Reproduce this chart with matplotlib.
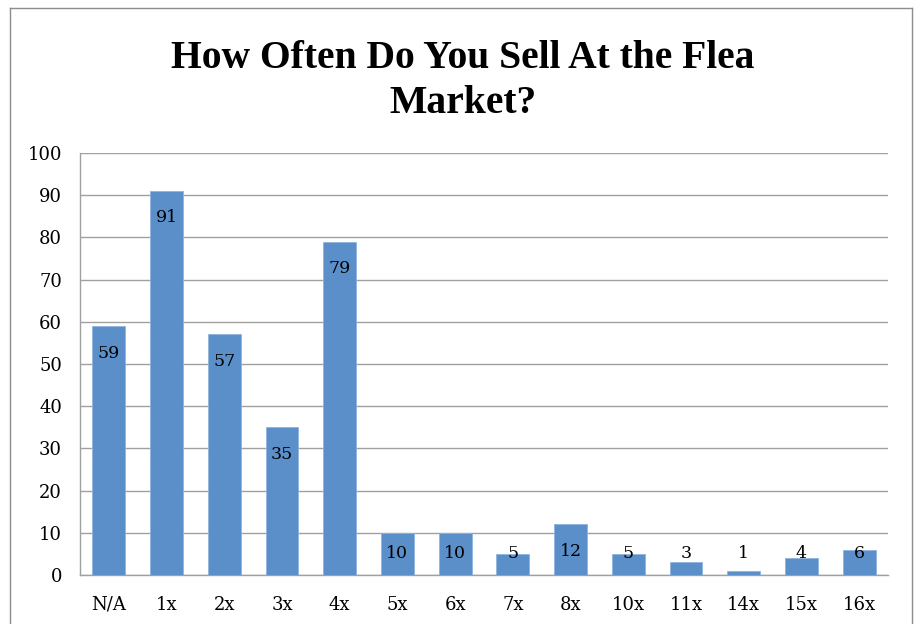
import matplotlib.pyplot as plt
from matplotlib.lines import Line2D

categories = ["N/A", "1x", "2x", "3x", "4x", "5x", "6x", "7x", "8x", "10x", "11x", "14x", "15x", "16x"]
counts = [59, 91, 57, 35, 79, 10, 10, 5, 12, 5, 3, 1, 4, 6]
title = "How Often Do You Sell At the Flea\nMarket?"

plt.rcParams["font.family"] = ["DejaVu Serif"]

fig = plt.figure(figsize=(9.17, 6.24), dpi=100)
ax = fig.add_axes((0.0872, 0.0785, 0.8812, 0.6763))

x = range(len(categories))
ax.bar(x, counts, width=0.57, color="#5b8fc9", edgecolor="#8fb3dc", linewidth=0.6, zorder=3)

# labels sit inside the bar top, but never below the floor near the axis
for i, v in enumerate(counts):
    y = max(v - 6.4, 5.2)
    ax.text(i, y, str(v), ha="center", va="center", fontsize=12.5, color="black", zorder=4)

ax.set_xlim(-0.5, len(categories) - 0.5)
ax.set_ylim(0, 100)
ax.set_yticks(range(0, 101, 10))
ax.set_xticks(list(x))
ax.set_xticklabels(categories)
ax.tick_params(axis="both", labelsize=13, length=0)
ax.tick_params(axis="y", pad=13)
ax.tick_params(axis="x", pad=15)
ax.yaxis.grid(True, color="#a0a0a0", linewidth=1.0, zorder=0)
for side in ["top", "right"]:
    ax.spines[side].set_visible(False)
for side in ["left", "bottom"]:
    ax.spines[side].set_color("#a0a0a0")
    ax.spines[side].set_linewidth(1.0)

fig.text(0.505, 0.87, title, ha="center", va="center", fontsize=28.5, fontweight="bold",
         family="Liberation Serif", linespacing=1.3)

# chart frame (bottom edge is cut off)
W, H = 917, 624
frame = dict(color="#8c8c8c", linewidth=1.0, transform=fig.transFigure)
fig.add_artist(Line2D([10 / W, 10 / W], [0, 1 - 8 / H], **frame))
fig.add_artist(Line2D([10 / W, 912 / W], [1 - 8 / H, 1 - 8 / H], **frame))
fig.add_artist(Line2D([912 / W, 912 / W], [0, 1 - 8 / H], **frame))

fig.savefig("out.png", dpi=100)
